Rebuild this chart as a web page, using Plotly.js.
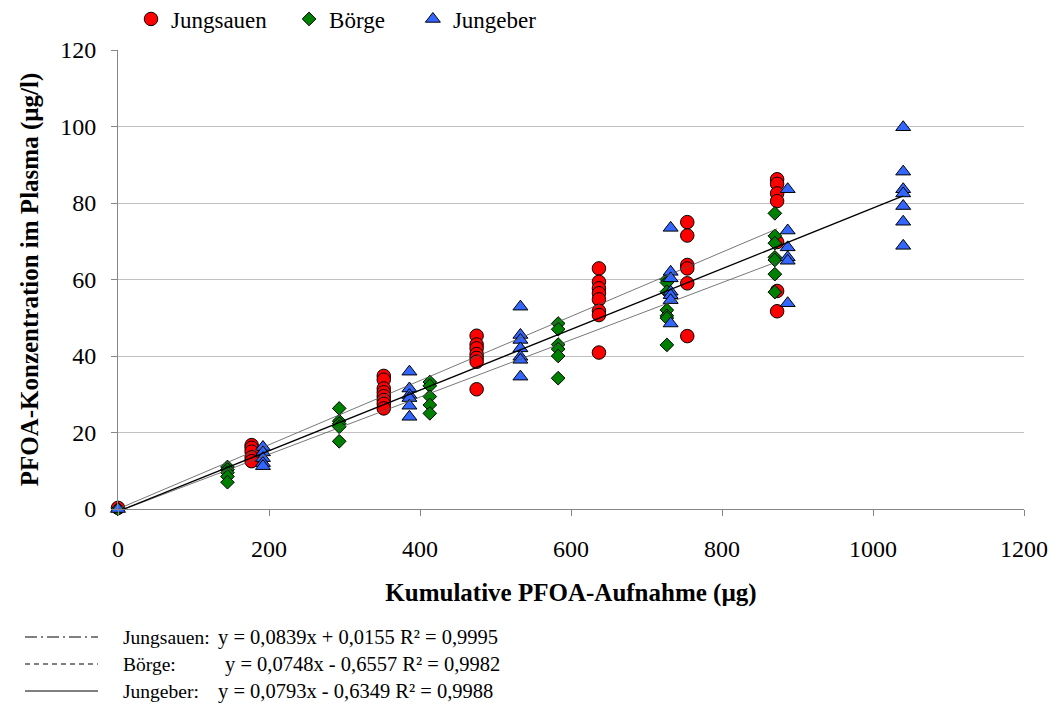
<!DOCTYPE html>
<html>
<head>
<meta charset="utf-8">
<script src="https://cdn.plot.ly/plotly-3.0.1.min.js"></script>
<style>html,body{margin:0;padding:0;background:#fff;}#chart{width:1055px;height:709px;}</style>
</head>
<body>
<div id="chart"></div>
<script>
// ---- Data ----
const seriesNames = ["Jungsauen", "Börge", "Jungeber"];

const jungsauenX = [0, 177,177,177,177,177, 352,352,352,352,352,352,352,352, 475,475,475,475,475,475,475, 637,637,637,637,637,637,637,637, 754,754,754,754,754,754, 873,873,873,873,873,873,873];
const jungsauenY = [0.3, 16.7,16,15,13.5,12.5, 34.8,33.8,31.5,30.5,29.5,28.5,27.5,26.3, 45.3,43,42,40.5,39.5,38.5,31.3, 62.9,59.4,57.7,56.4,54.8,51.8,50.7,40.9, 75,71.5,63.8,62.9,59,45.2, 86.2,85,82.5,80.5,69.8,57,51.7];

const boergeX = [0, 145,145,145,145,145, 293,293,293,293,293, 413,413,413,413,413, 583,583,583,583,583,583, 727,727,727,727,727,727,727, 870,870,870,870,870,870,870];
const boergeY = [0, 11,10.3,9.5,8.5,7, 26.3,23,22.3,21.5,17.7, 33.2,32.2,29.4,27.2,25, 48.5,47,43,41.8,40,34.2, 60,59.2,56.8,52,50.5,49.9,42.9, 77.3,71.4,69.5,65.8,65.1,61.4,56.7];

const jungeberX = [0, 192,192,192,192,192, 386,386,386,386,386,386, 533,533,533,533,533,533,533, 732,732,732,732,732,732,732, 887,887,887,887,887,887, 1040,1040,1040,1040,1040,1040,1040];
const jungeberY = [0, 16.2,14.8,13.3,12,11.2, 35.9,31.5,29.8,29,27,24.1, 52.9,45.5,44.2,42,39.8,39,34.6, 73.5,62,60.3,56.8,55.9,54.6,48.5, 83.6,72.8,68.4,65.8,64.9,53.8, 99.8,88.2,83.6,82.5,79.2,75.1,68.8];

// Linear trendlines as printed in the chart's equation legend
const trendSlopes = [0.0839, 0.0748, 0.0793];
const trendIntercepts = [0.0155, -0.6557, -0.6349];
const trendXEnd = [873, 873, 1040];

const eqNames = ["Jungsauen:", "Börge:", "Jungeber:"];
const eqTexts = ["y = 0,0839x + 0,0155 R² = 0,9995", "y = 0,0748x - 0,6557 R² = 0,9982", "y = 0,0793x - 0,6349 R² = 0,9988"];

const xTickVals = [0, 200, 400, 600, 800, 1000, 1200];
const yTickVals = [0, 20, 40, 60, 80, 100, 120];

// ---- Styles ----
const serif = "Liberation Serif, Times New Roman, serif";
const colors = ["#ff0000", "#008000", "#3366ff"];
const symbols = ["circle", "diamond", "triangle-up"];
const sizes = [13.5, 10.5, 13];
const legendPad = ["\u00a0\u00a0\u00a0", "\u00a0\u00a0\u00a0\u00a0", ""];
const xs = [jungsauenX, boergeX, jungeberX];
const ys = [jungsauenY, boergeY, jungeberY];

const traces = [];
for (let i = 0; i < 3; i++) {
  traces.push({
    type: "scatter", mode: "markers", name: seriesNames[i] + legendPad[i],
    x: xs[i], y: ys[i],
    marker: {color: colors[i], symbol: symbols[i], size: sizes[i], line: {color: "#000", width: 1}},
    cliponaxis: false
  });
}
const trendWidths = [0.8, 0.8, 1.3];
const trendColors = ["#555", "#555", "#000"];
for (let i = 0; i < 3; i++) {
  const tx = [0, trendXEnd[i]];
  const ty = tx.map(v => trendSlopes[i] * v + trendIntercepts[i]);
  traces.push({
    type: "scatter", mode: "lines", x: tx, y: ty, showlegend: false, hoverinfo: "skip",
    line: {color: trendColors[i], width: trendWidths[i]}
  });
}

// Geometry helpers (pixel -> paper)
const L = 118, R = 1024, T = 50, B = 509;
const px = v => (v - L) / (R - L);
const py = v => (B - v) / (B - T);

const shapes = [];
const annotations = [];
const dashes = ["12px,4px,2px,4px", "5px,4px", "solid"];
const rowY = [637, 664, 691];
const eqX = [216, 223, 216];
for (let i = 0; i < 3; i++) {
  shapes.push({type: "line", xref: "paper", yref: "paper",
    x0: px(25), x1: px(98), y0: py(rowY[i]), y1: py(rowY[i]),
    line: {color: "#000", width: 1, dash: dashes[i]}});
  annotations.push({xref: "paper", yref: "paper", x: px(121), y: py(rowY[i]), xanchor: "left", yanchor: "middle",
    text: eqNames[i], showarrow: false, font: {family: serif, size: 19.5, color: "#000"}});
  annotations.push({xref: "paper", yref: "paper", x: px(eqX[i]), y: py(rowY[i]), xanchor: "left", yanchor: "middle",
    text: eqTexts[i], showarrow: false, font: {family: serif, size: 20.5, color: "#000"}});
}

const layout = {
  width: 1055, height: 709,
  margin: {l: L, r: 1055 - R, t: T, b: 709 - B, autoexpand: false},
  paper_bgcolor: "#fff", plot_bgcolor: "#fff",
  font: {family: serif, color: "#000"},
  showlegend: true,
  legend: {orientation: "h", x: px(131), y: py(19), xanchor: "left", yanchor: "middle",
    font: {family: serif, size: 23, color: "#000"}, bgcolor: "rgba(0,0,0,0)", itemwidth: 30},
  xaxis: {
    range: [0, 1200], tickvals: xTickVals, ticktext: xTickVals.map(String),
    showgrid: false, zeroline: false, showline: true, linecolor: "#868686", linewidth: 1,
    ticks: "outside", ticklen: 6, tickcolor: "#868686",
    tickfont: {family: serif, size: 24, color: "#000"}, ticklabelstandoff: 12,
    title: {text: "<b>Kumulative PFOA-Aufnahme (µg)</b>", font: {family: serif, size: 25, color: "#000"}, standoff: 22}
  },
  yaxis: {
    range: [0, 120], tickvals: yTickVals, ticktext: yTickVals.map(String),
    showgrid: true, gridcolor: "#c0c0c0", gridwidth: 1, zeroline: false,
    showline: true, linecolor: "#868686", linewidth: 1,
    ticks: "outside", ticklen: 6, tickcolor: "#868686",
    tickfont: {family: serif, size: 24, color: "#000"}, ticklabelstandoff: 10,
    title: {text: "<b>PFOA-Konzentration im Plasma (µg/l)</b>", font: {family: serif, size: 25, color: "#000"}, standoff: 14}
  },
  shapes: shapes,
  annotations: annotations
};

Plotly.newPlot("chart", traces, layout, {staticPlot: true, displayModeBar: false});
</script>
</body>
</html>
